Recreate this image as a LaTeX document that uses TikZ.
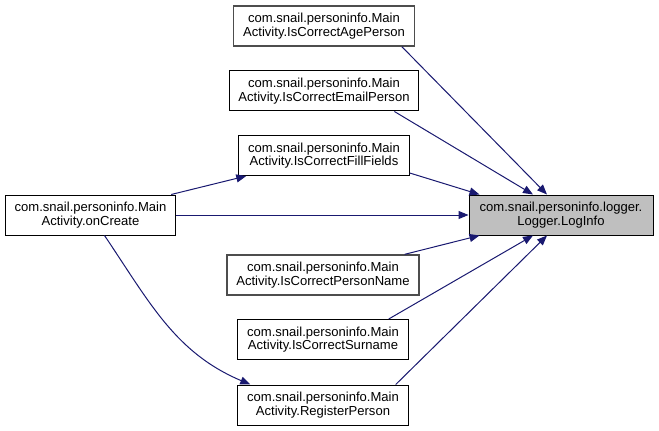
\documentclass[tikz,border=0pt]{standalone}
\usepackage{fontspec}
\setmainfont{Liberation Sans}
\usetikzlibrary{arrows.meta,calc}
\definecolor{edgeblue}{HTML}{191970}
\definecolor{rootgray}{HTML}{BFBFBF}
\definecolor{framegray}{HTML}{4D4D4D}

\begin{document}
\begin{tikzpicture}[x=0.75pt,y=-0.75pt,
  fn/.style={draw,align=center,inner xsep=7pt,minimum height=30pt,line width=0.75pt,
    font=\fontsize{9.8}{10.3}\selectfont},
  call/.style={draw=edgeblue,line width=0.75pt,
    -{Triangle[length=7.5pt,width=6pt,fill=edgeblue]}}]
\useasboundingbox (0,0) rectangle (659,431);
% callee
\node [fn,fill=rootgray,minimum width=138pt] (loginfo) at (561,215) {com.snail.personinfo.logger.\\Logger.LogInfo};
% callers
\node [fn] (oncreate) at (90.5,215) {com.snail.personinfo.Main\\Activity.onCreate};
\node [fn,draw=framegray,line width=1pt] (age) at (324,26) {com.snail.personinfo.Main\\Activity.IsCorrectAgePerson};
\node [fn] (email) at (324,91) {com.snail.personinfo.Main\\Activity.IsCorrectEmailPerson};
\node [fn] (fill) at (324,155.5) {com.snail.personinfo.Main\\Activity.IsCorrectFillFields};
\node [fn,draw=framegray,line width=1pt] (name) at (323,275) {com.snail.personinfo.Main\\Activity.IsCorrectPersonName};
\node [fn] (surname) at (323,339.5) {com.snail.personinfo.Main\\Activity.IsCorrectSurname};
\node [fn] (register) at (323,405) {com.snail.personinfo.Main\\Activity.RegisterPerson};
% calls
\draw [call] ($(age.south east)+(-13,0)$) -- ($(loginfo.north)+(-14,0)$);
\draw [call] ($(email.south east)+(-25,0)$) -- ($(loginfo.north)+(-28,0)$);
\draw [call] ($(fill.south east)+(0,-3)$) -- ($(loginfo.north west)+(11,0)$);
\draw [call] (oncreate.east) -- (loginfo.west);
\draw [call] ($(name.north east)+(-15,0)$) -- ($(loginfo.south west)+(11,0)$);
\draw [call] ($(surname.north east)+(-20,0)$) -- ($(loginfo.south)+(-28,0)$);
\draw [call] ($(register.north east)+(-13,0)$) -- ($(loginfo.south)+(-14,0)$);
\draw [call] ($(oncreate.north east)+(-5,0)$) -- ($(fill.south west)+(8,0)$);
\draw [call] ($(oncreate.south)+(14,0)$) to[out=-56,in=157] ($(register.north west)+(13,0)$);
\end{tikzpicture}
\end{document}
